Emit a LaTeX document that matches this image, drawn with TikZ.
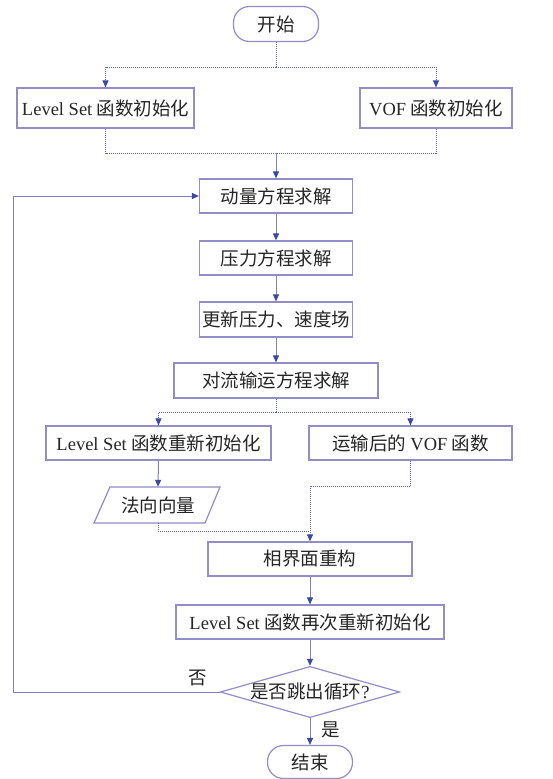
\documentclass[tikz,border=0pt]{standalone}
\usepackage{fontspec}
\setmainfont{Liberation Serif}
\newfontfamily\cjk{Noto Sans CJK SC}
\usetikzlibrary{arrows.meta,shapes.geometric,calc}
\definecolor{boxc}{HTML}{928DC6}
\definecolor{linec}{HTML}{7D80C2}
\definecolor{tipc}{HTML}{3B4AA0}
\definecolor{dotc}{HTML}{5B63B5}
\begin{document}
\begin{tikzpicture}[x=1pt,y=-1pt,
  box/.style={draw=boxc, line width=1.2pt, fill=white, inner sep=0pt,
    font=\fontsize{18.5}{20}\selectfont\cjk, text=black!85},
  term/.style={box, rounded corners=16pt},
  plain/.style={inner sep=0pt, font=\fontsize{18.5}{20}\selectfont\cjk, text=black!85},
  arr/.style={draw=linec, line width=1pt, -{Triangle[length=7pt,width=6pt,fill=tipc,color=tipc]}},
  dotl/.style={draw=dotc, line width=1pt, densely dotted},
  dotarr/.style={dotl, -{Triangle[length=7pt,width=6pt,fill=tipc,color=tipc]}}
]
\useasboundingbox (0,0) rectangle (552,779);
\fill[white] (0,0) rectangle (552,779);

\node[term, minimum width=85pt, minimum height=35pt] (start) at (276,24) {开始};
\node[box, minimum width=177pt, minimum height=40pt] (ls0) at (105.5,108) {{\rmfamily Level Set} 函数初始化};
\node[box, minimum width=152pt, minimum height=40pt] (vof0) at (436,108) {{\rmfamily VOF} 函数初始化};
\node[box, minimum width=153pt, minimum height=34pt] (mom) at (276,196) {动量方程求解};
\node[box, minimum width=153pt, minimum height=34pt] (pres) at (276,258) {压力方程求解};
\node[box, minimum width=153pt, minimum height=35pt] (upd) at (276,319.5) {更新压力、速度场};
\node[box, minimum width=204pt, minimum height=35pt] (conv) at (276,380.5) {对流输运方程求解};
\node[box, minimum width=225pt, minimum height=34pt] (ls1) at (158.5,443) {{\rmfamily Level Set} 函数重新初始化};
\node[box, minimum width=203pt, minimum height=34pt] (vof1) at (410.5,443) {运输后的 {\rmfamily VOF} 函数};
\node[plain, minimum width=110pt, minimum height=36pt] (nv) at (158,505) {法向向量};
\draw[draw=boxc, line width=1.2pt] ($(nv.center)+(-64,18)$) -- ($(nv.center)+(47,18)$) -- ($(nv.center)+(62,-18)$) -- ($(nv.center)+(-48,-18)$) -- cycle;
\node[box, minimum width=204pt, minimum height=34pt] (rec) at (310,559) {相界面重构};
\node[box, minimum width=268pt, minimum height=34pt] (ls2) at (310,622) {{\rmfamily Level Set} 函数再次重新初始化};
\node[box, diamond, aspect=3.5, minimum width=176pt, minimum height=50pt] (dec) at (310,692) {是否跳出循环{\rmfamily ?}};
\node[term, minimum width=85pt, minimum height=33pt] (end) at (310,762) {结束};

\coordinate (c1) at (276,67);
\coordinate (m1) at (276,153);
\coordinate (c2) at (276,412);
\coordinate (c3) at (310,486);
\coordinate (c4) at (310,531);
\coordinate (c5) at (13,692);

\draw[dotl] (start.south) -- (c1);
\draw[dotarr] (c1) -| (ls0.north);
\draw[dotarr] (c1) -| (vof0.north);
\draw[dotl] (ls0.south) |- (m1) -| (vof0.south);
\draw[arr] (m1) -- (mom.north);
\draw[arr] (mom) -- (pres);
\draw[arr] (pres) -- (upd);
\draw[arr] (upd) -- (conv);
\draw[dotl] (conv.south) -- (c2);
\draw[dotarr] (c2) -| (ls1.north);
\draw[dotarr] (c2) -| (vof1.north);
\draw[arr] (ls1.south) -- (nv.north);
\draw[dotl] (vof1.south) |- (c3);
\draw[dotarr] (c3) -- (rec.north);
\draw[dotl] (nv.south) |- (c4);
\draw[arr] (rec) -- (ls2);
\draw[arr] (ls2) -- (dec);
\draw[arr] (dec) -- (end);
\draw[arr] (dec.west) -- (c5) |- (mom.west);

\node[plain] (no) at (198,678) {否};
\node[plain] (yes) at (331,730) {是};
\end{tikzpicture}
\end{document}
